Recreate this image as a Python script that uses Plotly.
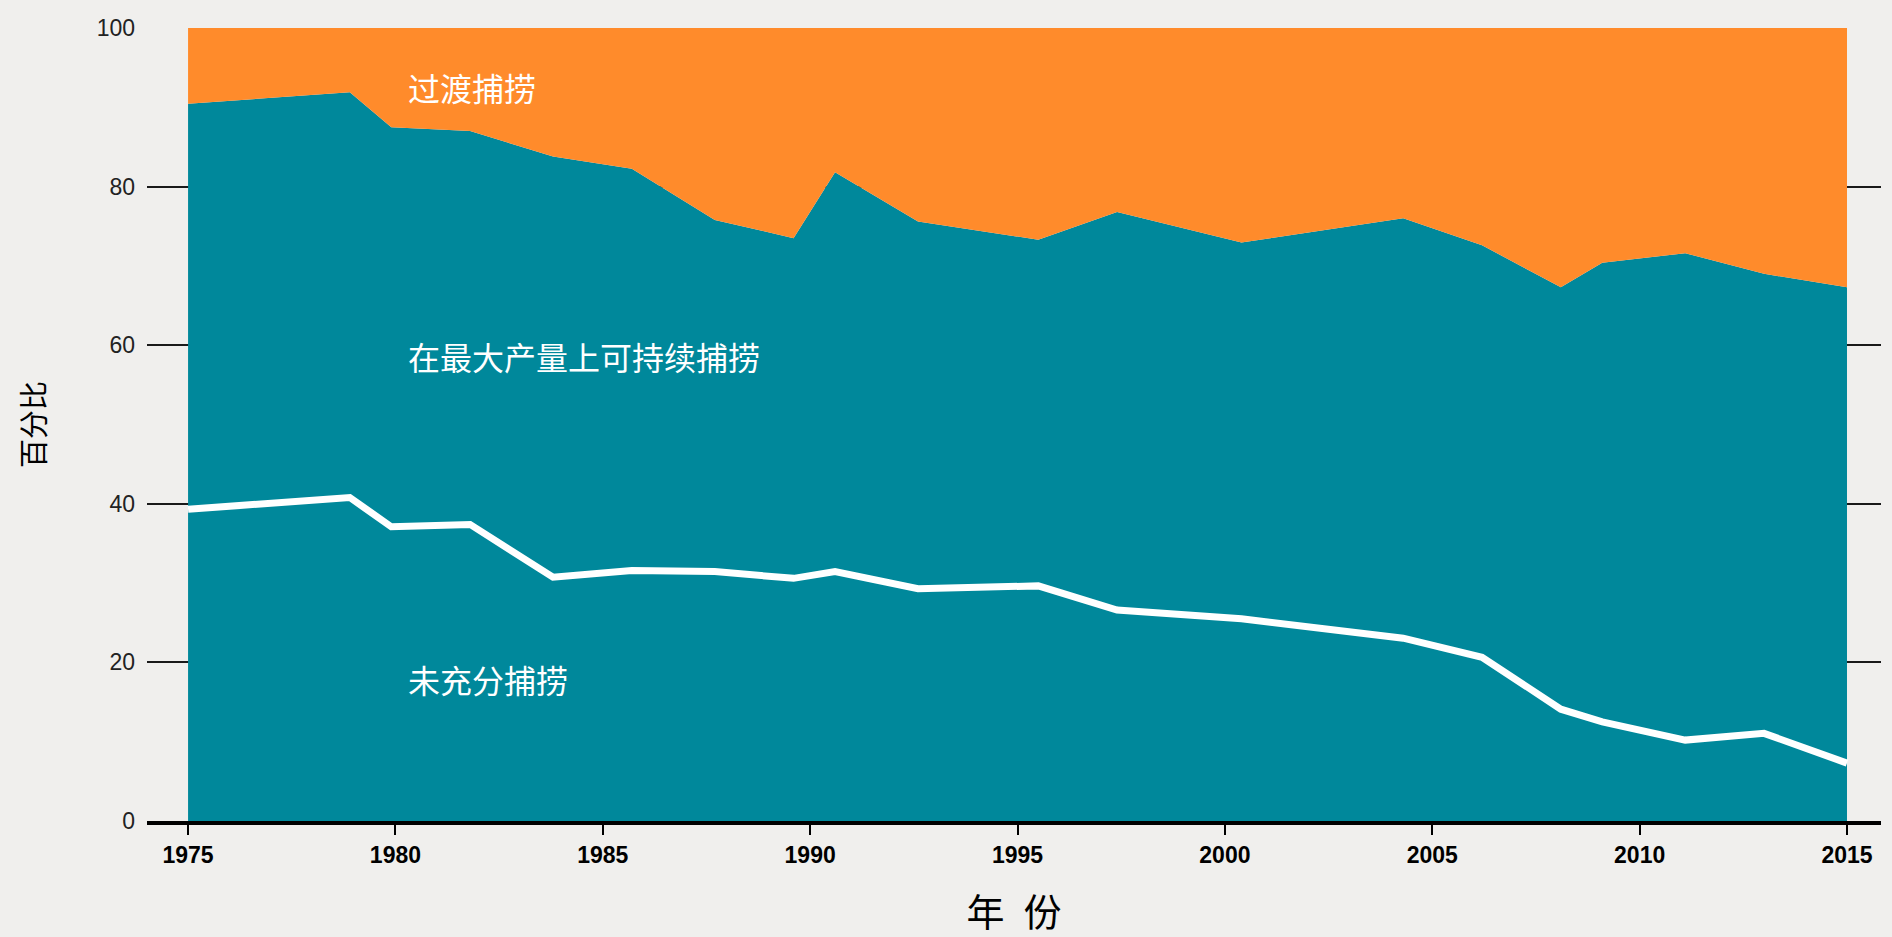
import plotly.graph_objects as go

# ---- data ----
years = [1975, 1978.9, 1979.9, 1981.8, 1983.8, 1985.7, 1987.7, 1989.6, 1990.6, 1992.6,
         1995.5, 1997.4, 2000.4, 2004.3, 2006.2, 2008.1, 2009.1, 2011.1, 2013.0, 2015]
under_fished = [39.3, 40.8, 37.1, 37.4, 30.75, 31.6, 31.45, 30.6, 31.45, 29.3,
                29.65, 26.6, 25.5, 23.05, 20.65, 14.1, 12.5, 10.2, 11.05, 7.3]
max_sustainable = [51.15, 51.1, 50.4, 49.6, 53.05, 50.65, 44.35, 42.9, 50.35, 46.3,
                   43.65, 50.2, 47.45, 52.95, 51.95, 53.2, 57.9, 61.4, 57.95, 60.0]
over_fished = [9.55, 8.1, 12.5, 13.0, 16.2, 17.75, 24.2, 26.5, 18.2, 24.4,
               26.7, 23.2, 27.05, 24.0, 27.4, 32.7, 29.6, 28.4, 31.0, 32.7]
series_names = ["未充分捕捞", "在最大产量上可持续捕捞", "过渡捕捞"]
x_tick_vals = [1975, 1980, 1985, 1990, 1995, 2000, 2005, 2010, 2015]
y_tick_vals = [0, 20, 40, 60, 80, 100]
x_title = "年\u2002份"
y_title = "百分比"
label_pos = [(1980.25, 17.9), (1980.25, 58.7), (1980.25, 92.6)]

TEAL = "#00889b"
ORANGE = "#ff8b2b"
BG = "#f0efed"
NUM_FONT = "Liberation Sans Narrow, Liberation Sans, sans-serif"
CJK_FONT = "Noto Sans CJK SC, sans-serif"

fig = go.Figure()
fig.add_trace(go.Scatter(x=years, y=under_fished, stackgroup="s", mode="none",
                         fillcolor=TEAL, name=series_names[0], hoverinfo="skip"))
fig.add_trace(go.Scatter(x=years, y=max_sustainable, stackgroup="s", mode="none",
                         fillcolor=TEAL, name=series_names[1], hoverinfo="skip"))
fig.add_trace(go.Scatter(x=years, y=over_fished, stackgroup="s", mode="none",
                         fillcolor=ORANGE, name=series_names[2], hoverinfo="skip"))
fig.add_trace(go.Scatter(x=years, y=under_fished, mode="lines",
                         line=dict(color="white", width=7), name=series_names[0],
                         hoverinfo="skip"))

for name, (lx, ly) in zip(series_names, label_pos):
    fig.add_annotation(x=lx, y=ly, text=name, showarrow=False, xanchor="left",
                       yanchor="middle",
                       font=dict(family=CJK_FONT, size=32, color="white"))

fig.update_layout(
    width=1892, height=937,
    margin=dict(l=147, r=11, t=28, b=116, autoexpand=False),
    paper_bgcolor=BG, plot_bgcolor=BG,
    showlegend=False,
    xaxis=dict(range=[1974.01, 2015.82], tickvals=x_tick_vals, automargin=False,
               ticks="outside", ticklen=10, tickwidth=1.5, tickcolor="black",
               showline=True, linewidth=4, linecolor="black",
               showgrid=False, zeroline=False,
               tickfont=dict(family=NUM_FONT, size=23, color="black", weight="bold"),
               title=dict(text=x_title, standoff=34,
                          font=dict(family=CJK_FONT, size=38, color="black"))),
    yaxis=dict(range=[0, 100], tickvals=y_tick_vals, automargin=False,
               showgrid=True, gridcolor="#1a1a1a", gridwidth=1.5,
               showline=False, zeroline=False, ticks="",
               ticklabelstandoff=11,
               tickfont=dict(family=NUM_FONT, size=23, color="#222"),
               title=dict(text=y_title, standoff=42,
                          font=dict(family=CJK_FONT, size=29, color="black"))),
)

fig.write_html("out.html",
               config={"displayModeBar": False},
               post_script="document.body.style.margin='0';"
                           "document.body.style.background='" + BG + "';")
